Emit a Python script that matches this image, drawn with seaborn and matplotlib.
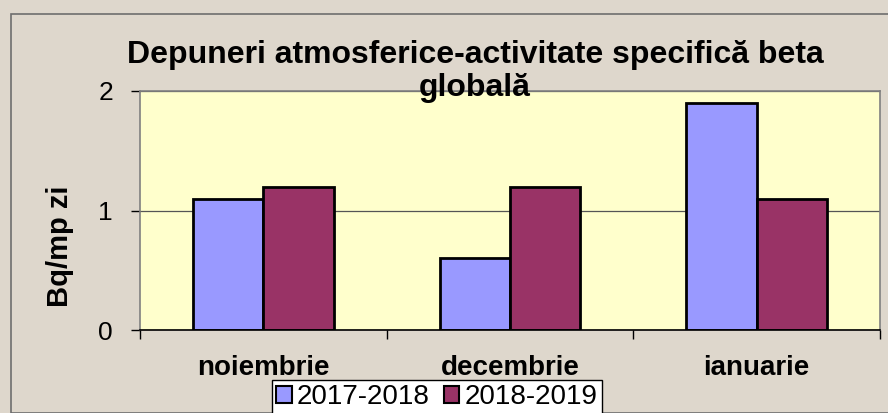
import matplotlib
matplotlib.use("Agg")
import matplotlib.pyplot as plt
import seaborn as sns
import pandas as pd
from matplotlib.patches import Rectangle

# Date din grafic
luni = ["noiembrie", "decembrie", "ianuarie"]
serii = ["2017-2018", "2018-2019"]
val_2017_2018 = [1.1, 0.6, 1.9]
val_2018_2019 = [1.2, 1.2, 1.1]
culori = ["#9999FF", "#993366"]

df = pd.DataFrame({
    "luna": luni * 2,
    "sezon": [serii[0]] * 3 + [serii[1]] * 3,
    "valoare": val_2017_2018 + val_2018_2019,
})

sns.set_style("white")
plt.rcParams["font.family"] = ["Liberation Sans", "DejaVu Sans"]
plt.rcParams["text.color"] = "black"
plt.rcParams["xtick.color"] = "black"
plt.rcParams["ytick.color"] = "black"
plt.rcParams["axes.labelcolor"] = "black"

fig = plt.figure(figsize=(8.88, 4.13), dpi=100)
fig.patch.set_facecolor("#DED7CC")
# rama exterioara
fig.patches.append(Rectangle((11 / 888, 0), 1, 1 - 14 / 413, transform=fig.transFigure,
                             fill=False, edgecolor="#6E6E6E", linewidth=1.2))

ax = fig.add_axes([140 / 888, 1 - 330 / 413, 740 / 888, 239 / 413])
ax.set_facecolor("#FFFFCC")

sns.barplot(data=df, x="luna", y="valoare", hue="sezon", palette=culori,
            width=0.57, edgecolor="black", linewidth=2, saturation=1,
            errorbar=None, ax=ax)

ax.set_ylim(0, 2)
ax.set_xlim(-0.5, 2.5)
ax.set_yticks([0, 1, 2])
ax.yaxis.grid(True, color="#555555", linewidth=0.9)
ax.set_axisbelow(True)
for s in ax.spines.values():
    s.set_color("#808080")
    s.set_linewidth(1.2)
ax.spines["bottom"].set_color("black")

ax.tick_params(axis="y", length=6.5, width=1, labelsize=19, pad=13, direction="out", left=True)
ax.set_xticks([-0.5, 0.5, 1.5, 2.5], minor=True)
ax.tick_params(axis="x", which="minor", length=6.5, width=1, direction="out", bottom=True)
ax.tick_params(axis="x", which="major", length=0, pad=18)
for lbl in ax.get_xticklabels():
    lbl.set_fontsize(20)
    lbl.set_fontweight("bold")

ax.set_xlabel("")
ax.set_ylabel("")
fig.text(60 / 888, 1 - 246 / 413, "Bq/mp zi", rotation=90, ha="center", va="center",
         fontsize=21, fontweight="bold")

fig.text(475 / 888, 1 - 55 / 413, "Depuneri atmosferice-activitate specifică beta",
         ha="center", va="center", fontsize=23, fontweight="bold")
fig.text(475 / 888, 1 - 88 / 413, "globală", ha="center", va="center",
         fontsize=23, fontweight="bold")

ax.get_legend().remove()
h, l = ax.get_legend_handles_labels()
leg = fig.legend(h, l, loc="center", bbox_to_anchor=(437 / 888, 1 - 397 / 413), ncol=2,
                 fontsize=20, frameon=True, fancybox=False, edgecolor="black",
                 handlelength=0.55, handleheight=0.55, handletextpad=0.2,
                 columnspacing=0.5, borderpad=0.15, borderaxespad=0)
leg.get_frame().set_facecolor("white")
leg.get_frame().set_alpha(1)
leg.get_frame().set_linewidth(1)
for p in leg.get_patches():
    p.set_linewidth(1.5)

fig.savefig("out.png", dpi=100, facecolor=fig.get_facecolor())
